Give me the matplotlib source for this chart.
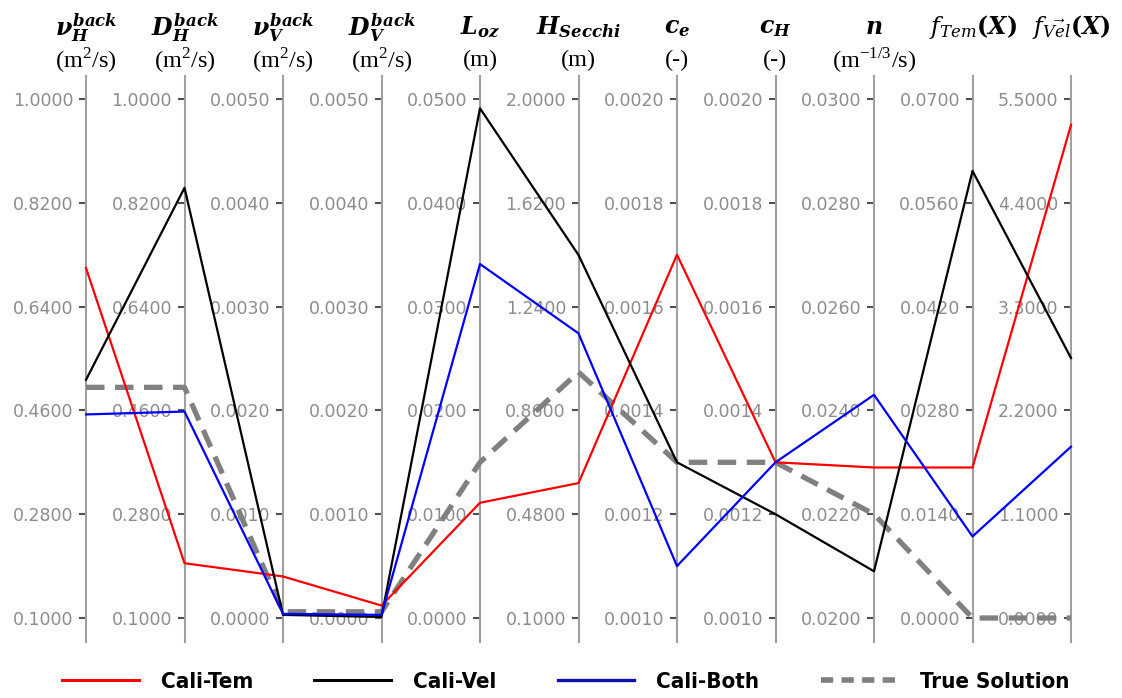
# parallel coordinates plot of the calibrated parameters vs the true solution

import numpy as np
import matplotlib.pyplot as plt
from matplotlib.ticker import FormatStrFormatter
from matplotlib.lines import Line2D

plt.rcParams['mathtext.fontset'] = 'custom'
plt.rcParams['mathtext.it'] = 'DejaVu Serif:italic:bold'
plt.rcParams['mathtext.bf'] = 'DejaVu Serif:bold'
plt.rcParams['mathtext.rm'] = 'Liberation Serif'
plt.rcParams['mathtext.sf'] = 'DejaVu Serif:italic'

# axis names, units and ranges
headers = [r'$ν_{H}^{back}$', r'$D_{H}^{back}$', r'$ν_{V}^{back}$', r'$D_{V}^{back}$',
           r'$L_{oz}$', r'$H_{Secchi}$', r'$c_{e}$', r'$c_{H}$', r'$n$',
           r'$\mathsf{f}_{\mathsf{Tem}}\mathbf{(}X\mathbf{)}$',
           r'$\mathsf{f}_{\overrightarrow{\mathsf{Vel}}}\mathbf{(}X\mathbf{)}$']
units = ['(m$^2$/s)', '(m$^2$/s)', '(m$^2$/s)', '(m$^2$/s)', '(m)', '(m)',
         '(-)', '(-)', '(m$^{-1/3}$/s)', '', '']
lo = [0.1, 0.1, 0.0, 0.0, 0.0, 0.1, 0.001, 0.001, 0.02, 0.0, 0.0]
hi = [1.0, 1.0, 0.005, 0.005, 0.05, 2.0, 0.002, 0.002, 0.03, 0.07, 5.5]

# values read for each solution
cali_tem = [0.707, 0.195, 0.0004, 0.00012, 0.0111, 0.594, 0.0017, 0.0013, 0.0229, 0.0203, 5.225]
cali_vel = [0.513, 0.846, 0.00003, 0.00001, 0.0491, 1.429, 0.0013, 0.0012, 0.0209, 0.0603, 2.755]
cali_both = [0.453, 0.458, 0.00004, 0.00003, 0.0341, 1.142, 0.0011, 0.0013, 0.0243, 0.011, 1.815]
true_sol = [0.5, 0.5, 0.00006, 0.00006, 0.015, 1.0, 0.0013, 0.0013, 0.022, 0.0, 0.0]

lo = np.array(lo)
hi = np.array(hi)
n_ax = len(lo)
x = np.arange(n_ax)

W, H = 1122, 698
fig = plt.figure(figsize=(W / 100, H / 100), dpi=100)
ax_l, ax_r, ax_t, ax_b = 86, 1071, 76, 642
ax = fig.add_axes([ax_l / W, 1 - ax_b / H, (ax_r - ax_l) / W, (ax_b - ax_t) / H])

# normalised limits so the 6 ticks sit at pixel 99 .. 618
y_top = (618 - ax_t) / 519
y_bot = (618 - ax_b) / 519
ax.set_xlim(0, n_ax - 1)
ax.set_ylim(y_bot, y_top)
for s in ax.spines.values():
    s.set_visible(False)
ax.set_xticks([])
ax.set_yticks([])

# one twin axis per parameter, spine moved to its x position
twins = []
for i in range(n_ax):
    tw = ax.twinx()
    span = hi[i] - lo[i]
    tw.set_ylim(lo[i] + y_bot * span, lo[i] + y_top * span)
    tw.set_yticks(np.linspace(lo[i], hi[i], 6))
    tw.yaxis.set_major_formatter(FormatStrFormatter('%.4f'))
    for name in ['top', 'right', 'bottom']:
        tw.spines[name].set_visible(False)
    tw.spines['left'].set_position(('data', i))
    tw.spines['left'].set_color('#a0a0a0')
    tw.spines['left'].set_linewidth(1.5)
    tw.yaxis.set_ticks_position('left')
    tw.tick_params(axis='y', colors='#505050', labelcolor='#8c8c8c',
                   labelsize=12.5, length=5, width=1.5, pad=4)
    twins.append(tw)

ax.set_zorder(50)
ax.patch.set_visible(False)


def norm(vals):
    return (np.array(vals) - lo) / (hi - lo)


ax.plot(x, norm(cali_tem), color='#ff0000', lw=1.6, clip_on=False)
ax.plot(x, norm(cali_vel), color='black', lw=1.6, clip_on=False)
ax.plot(x, norm(cali_both), color='#0000ff', lw=1.6, clip_on=False)
ax.plot(x, norm(true_sol), color='#808080', lw=3.8, ls=(0, (3.5, 2)),
        clip_on=False, zorder=1)

# headers and units above each axis
for i in range(n_ax):
    ax.annotate(headers[i], xy=(i, 1), xycoords=('data', 'axes fraction'),
                xytext=(0, 35), textcoords='offset points',
                ha='center', va='center', fontsize=17)
    if units[i]:
        ax.annotate(units[i], xy=(i, 1), xycoords=('data', 'axes fraction'),
                    xytext=(0, 11), textcoords='offset points',
                    ha='center', va='center', fontsize=17.5,
                    family='Liberation Serif')

# legend handles a bit thicker than the plotted lines
handles = [Line2D([], [], color='#ff0000', lw=2.2),
           Line2D([], [], color='black', lw=2.2),
           Line2D([], [], color='#1010b0', lw=2.4),
           Line2D([], [], color='#808080', lw=4, ls=(0, (2.2, 1.5)))]
labels = ['Cali-Tem', 'Cali-Vel', 'Cali-Both', 'True Solution']
fig.legend(handles, labels, loc='center', bbox_to_anchor=(0.504, 1 - 682 / H),
           ncol=4, frameon=False, handlelength=3.45, handletextpad=1.0,
           columnspacing=2.75,
           prop={'family': 'DejaVu Sans', 'stretch': 'condensed',
                 'weight': 'bold', 'size': 16})

fig.savefig('out.png', dpi=100)
